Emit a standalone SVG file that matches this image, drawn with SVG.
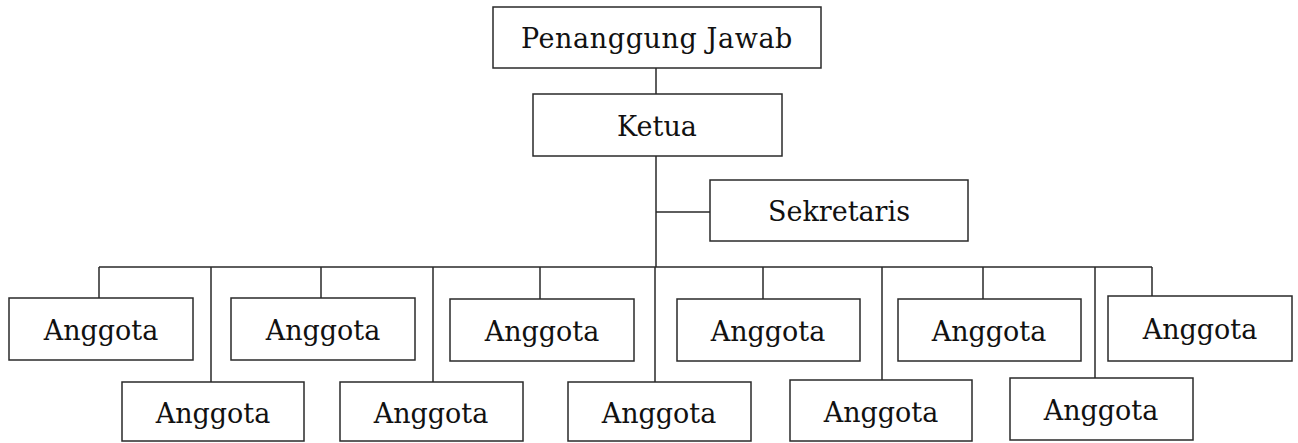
<svg xmlns="http://www.w3.org/2000/svg" width="1298" height="443" viewBox="0 0 1298 443">
<style>
.box{fill:#fff;stroke:#2a2a2a;stroke-width:1.5}
.ln{fill:none;stroke:#2a2a2a;stroke-width:1.5}
text{font-family:"DejaVu Serif","Liberation Serif",serif;font-size:27px;fill:#111;text-anchor:middle}
</style>
<rect width="1298" height="443" fill="#fff"/>
<g id="connectors">
<path class="ln" d="M656 68V95M656 156V267M656 212H710M99 267H1152"/>
<path class="ln" d="M99 267V298M321 267V298M540 267V299M763 267V299M983 267V299M1152 267V296"/>
<path class="ln" d="M211 267V382M433 267V382M655 267V382M882 267V380M1095 267V378"/>
</g>
<g id="penanggung"><rect class="box" x="493" y="7" width="328" height="61"/><text x="657" y="48" letter-spacing="0.6">Penanggung Jawab</text></g>
<g id="ketua"><rect class="box" x="533" y="94" width="249" height="62"/><text x="657" y="136">Ketua</text></g>
<g id="sekretaris"><rect class="box" x="710" y="180" width="258" height="61"/><text x="839" y="221">Sekretaris</text></g>
<g id="a1"><rect class="box" x="9" y="298" width="184" height="62"/><text x="101" y="340">Anggota</text></g>
<g id="a2"><rect class="box" x="231" y="298" width="184" height="62"/><text x="323" y="340">Anggota</text></g>
<g id="a3"><rect class="box" x="450" y="299" width="184" height="62"/><text x="542" y="341">Anggota</text></g>
<g id="a4"><rect class="box" x="677" y="299" width="183" height="62"/><text x="768" y="341">Anggota</text></g>
<g id="a5"><rect class="box" x="898" y="299" width="183" height="62"/><text x="989" y="341">Anggota</text></g>
<g id="a6"><rect class="box" x="1108" y="296" width="184" height="65"/><text x="1200" y="339">Anggota</text></g>
<g id="b1"><rect class="box" x="122" y="382" width="182" height="59"/><text x="213" y="423">Anggota</text></g>
<g id="b2"><rect class="box" x="340" y="382" width="183" height="59"/><text x="431" y="423">Anggota</text></g>
<g id="b3"><rect class="box" x="568" y="382" width="183" height="59"/><text x="659" y="423">Anggota</text></g>
<g id="b4"><rect class="box" x="790" y="380" width="182" height="61"/><text x="881" y="422">Anggota</text></g>
<g id="b5"><rect class="box" x="1010" y="378" width="183" height="62"/><text x="1101" y="420">Anggota</text></g>
</svg>
